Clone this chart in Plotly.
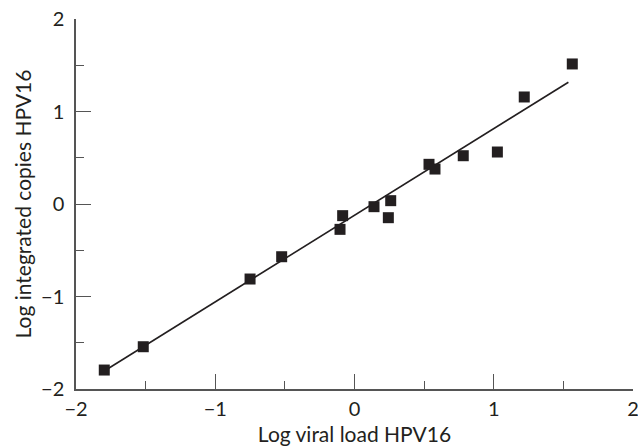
import plotly.graph_objects as go

# Data
log_viral_load = [-1.797, -1.517, -0.750, -0.523, -0.104, -0.085, 0.140, 0.243, 0.260,
                  0.535, 0.578, 0.781, 1.026, 1.219, 1.564]
log_integrated = [-1.795, -1.543, -0.811, -0.570, -0.274, -0.126, -0.029, -0.148, 0.036,
                  0.429, 0.378, 0.522, 0.562, 1.157, 1.514]
fit_slope = 0.9365
fit_intercept = -0.122
fit_x_range = [-1.80, 1.536]
tick_vals = [-2, -1, 0, 1, 2]

fit_y = [fit_intercept + fit_slope * v for v in fit_x_range]

ink = "#231f20"
axis_col = "#555555"

fig = go.Figure()
fig.add_trace(go.Scatter(x=fit_x_range, y=fit_y, mode="lines",
                         line=dict(color=ink, width=1.6), showlegend=False,
                         hoverinfo="skip"))
fig.add_trace(go.Scatter(x=log_viral_load, y=log_integrated, mode="markers",
                         marker=dict(symbol="square", size=11, color=ink),
                         showlegend=False))

font_family = "Lato, 'DejaVu Sans', sans-serif"
axis_common = dict(
    range=[-2, 2], tickvals=tick_vals, showgrid=False, zeroline=False,
    showline=True, linecolor=axis_col, linewidth=1.5,
    ticks="inside", ticklen=15, tickcolor=axis_col, tickwidth=1.3,
    minor=dict(ticks="inside", ticklen=8, dtick=0.5, tickcolor=axis_col, tickwidth=1.3),
    tickfont=dict(family=font_family, size=20, color=ink),
    title_font=dict(family=font_family, size=21, color=ink),
    ticklabeloverflow="allow", automargin=False,
)

fig.update_layout(
    width=638, height=446,
    margin=dict(l=76, r=5, t=19, b=57, autoexpand=False),
    plot_bgcolor="white", paper_bgcolor="white",
    xaxis=dict(**axis_common, title=dict(text="Log viral load HPV16", standoff=9),
               ticklabelstandoff=1),
    yaxis=dict(**axis_common, title=dict(text="Log integrated copies HPV16", standoff=4),
               ticklabelstandoff=6),
)

fig.write_html("out.html", config={"displayModeBar": False},
               post_script="document.body.style.margin='0';document.body.style.padding='0';")
